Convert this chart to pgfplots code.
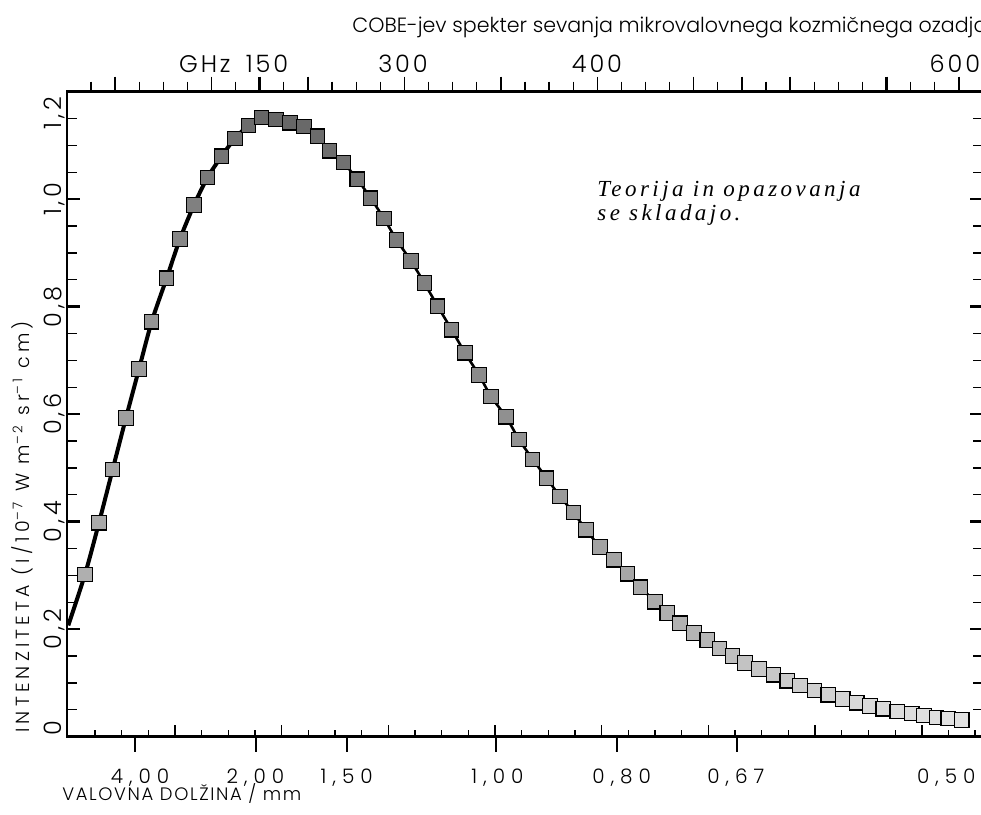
\documentclass[border=0pt]{standalone}
\usepackage{pgfplots}
\pgfplotsset{compat=1.18}
\usepackage{pgfplotstable}
\usepackage{fontspec}
\setmainfont{Poppins}[UprightFont={* Light}]
\newfontfamily\annfont{Liberation Serif}[LetterSpace=15]
\newcommand{\tkA}{\fontsize{12}{14}\selectfont\addfontfeature{LetterSpace=12}}
\newcommand{\tkB}{\fontsize{10}{12}\selectfont\addfontfeature{LetterSpace=30}}
\newcommand{\tkY}{\fontsize{12}{14}\selectfont\addfontfeature{LetterSpace=15}}

% frequency (GHz), intensity, grey level of the square
\pgfplotstableread{
f v g
41.3 0.302 0.68
50.0 0.398 0.66
58.5 0.497 0.64
66.8 0.593 0.62
74.9 0.684 0.60
82.8 0.772 0.58
92.1 0.853 0.55
100.4 0.926 0.52
109.1 0.989 0.50
117.5 1.040 0.47
126.3 1.080 0.45
134.6 1.113 0.43
142.9 1.137 0.42
151.2 1.152 0.40
160.1 1.148 0.40
168.8 1.142 0.40
177.5 1.135 0.41
185.9 1.117 0.42
193.3 1.090 0.43
202.0 1.068 0.44
210.7 1.037 0.45
219.0 1.002 0.46
227.3 0.964 0.47
235.2 0.924 0.48
244.1 0.885 0.49
252.4 0.844 0.50
260.7 0.801 0.51
269.4 0.757 0.52
277.7 0.714 0.53
286.4 0.673 0.54
293.9 0.633 0.55
303.2 0.595 0.56
311.3 0.553 0.57
319.8 0.516 0.58
328.5 0.481 0.59
336.8 0.447 0.60
345.1 0.417 0.61
353.0 0.385 0.62
361.7 0.353 0.63
370.4 0.329 0.64
378.7 0.303 0.65
387.0 0.278 0.66
395.9 0.251 0.67
403.5 0.230 0.68
411.5 0.211 0.69
420.2 0.193 0.70
428.4 0.180 0.71
435.9 0.164 0.72
444.0 0.150 0.74
451.9 0.137 0.76
460.6 0.126 0.77
469.5 0.115 0.78
478.2 0.104 0.79
486.1 0.095 0.80
495.0 0.086 0.81
503.7 0.078 0.82
512.7 0.070 0.83
521.4 0.063 0.84
529.6 0.057 0.85
537.9 0.052 0.85
546.6 0.047 0.86
555.6 0.043 0.86
563.2 0.039 0.87
571.1 0.036 0.87
578.3 0.034 0.88
586.7 0.031 0.88
}\datatab

% theory curve
\pgfplotstableread{
f v
30.9 0.207
41.3 0.302
50.0 0.398
58.5 0.497
66.8 0.593
74.9 0.684
82.8 0.772
92.1 0.853
100.4 0.926
109.1 0.989
117.5 1.040
126.3 1.080
134.6 1.113
142.9 1.137
151.2 1.152
160.1 1.148
168.8 1.142
177.5 1.135
185.9 1.117
193.3 1.090
202.0 1.068
210.7 1.037
219.0 1.002
227.3 0.964
235.2 0.924
244.1 0.885
252.4 0.844
260.7 0.801
269.4 0.757
277.7 0.714
286.4 0.673
293.9 0.633
303.2 0.595
311.3 0.553
319.8 0.516
328.5 0.481
336.8 0.447
345.1 0.417
353.0 0.385
361.7 0.353
370.4 0.329
378.7 0.303
387.0 0.278
395.9 0.251
403.5 0.230
411.5 0.211
420.2 0.193
428.4 0.180
435.9 0.164
444.0 0.150
451.9 0.137
460.6 0.126
469.5 0.115
478.2 0.104
486.1 0.095
495.0 0.086
503.7 0.078
512.7 0.070
521.4 0.063
529.6 0.057
537.9 0.052
546.6 0.047
555.6 0.043
563.2 0.039
571.1 0.036
578.3 0.034
586.7 0.031
}\curvetab

\pgfplotsset{base/.style={scale only axis, width=458.15pt, height=322.5pt,
  xmin=30, xmax=600, ymin=0, ymax=1.2, at={(0,0)}, anchor=south west}}

\begin{document}
\begin{tikzpicture}
% main axis: frame, y ticks, data
\begin{axis}[base, clip=false,
  axis line style={line width=1.3pt},
  xtick=\empty,
  ytick={0,0.2,0.4,0.6,0.8,1.0,1.2}, yticklabels={},
  minor y tick num=3, tick align=inside,
  major tick length=6.5pt, minor tick length=5pt,
  major tick style={line width=1.2pt, black},
  minor tick style={line width=0.6pt, black},
  colormap={bw}{gray(0cm)=(0); gray(1cm)=(1)},
  point meta min=0, point meta max=1]
\addplot[scatter, only marks, mark=square*, mark size=3.6pt,
  mark options={line width=0.6pt},
  scatter/use mapped color={draw=black, fill=mapped color},
  point meta=explicit] table[x=f, y=v, meta=g] {\datatab};
\addplot[no markers, smooth, line width=2pt, black,
  restrict x to domain=30:152] table[x=f, y=v] {\curvetab};
\addplot[no markers, smooth, line width=1.3pt, black,
  restrict x to domain=150:421] table[x=f, y=v] {\curvetab};
\addplot[no markers, smooth, line width=1.6pt, black!45,
  restrict x to domain=420:600] table[x=f, y=v] {\curvetab};

% title and top labels
\node[anchor=base west, inner sep=0, font=\fontsize{10.3}{12}\selectfont]
  at (axis cs:207.4,1.311) {COBE-jev spekter sevanja mikrovalovnega kozmičnega ozadja};
\node[anchor=base east, inner sep=0, font=\tkA] at (axis cs:132.1,1.2366) {GHz};
\node[anchor=base, inner sep=0, font=\tkA] at (axis cs:154.5,1.2366) {150};
\node[anchor=base, inner sep=0, font=\tkA] at (axis cs:239.1,1.2366) {300};
\node[anchor=base, inner sep=0, font=\tkA] at (axis cs:359.8,1.2366) {400};
\node[anchor=base, inner sep=0, font=\tkA] at (axis cs:582.5,1.2366) {600};

% bottom labels
\node[anchor=base, inner sep=0, font=\tkB] at (axis cs:75.5,-0.0878) {4,00};
\node[anchor=base, inner sep=0, font=\tkB] at (axis cs:147.3,-0.0878) {2,00};
\node[anchor=base, inner sep=0, font=\tkB] at (axis cs:204.1,-0.0878) {1,50};
\node[anchor=base, inner sep=0, font=\tkB] at (axis cs:297.9,-0.0878) {1,00};
\node[anchor=base, inner sep=0, font=\tkB] at (axis cs:375.2,-0.0878) {0,80};
\node[anchor=base, inner sep=0, font=\tkB] at (axis cs:446.2,-0.0878) {0,67};
\node[anchor=base west, inner sep=0, font=\tkB] at (axis cs:558.7,-0.0878) {0,50};
\node[anchor=base west, inner sep=0, font=\fontsize{9}{10}\selectfont\addfontfeature{LetterSpace=9}]
  at (axis cs:27.0,-0.1197) {VALOVNA DOLŽINA / mm};

% y tick labels and y label
\node[rotate=90, anchor=base, inner sep=0, font=\tkY] at (axis cs:26.8,0.0162) {0};
\node[rotate=90, anchor=base, inner sep=0, font=\tkY] at (axis cs:26.8,0.2) {0,2};
\node[rotate=90, anchor=base, inner sep=0, font=\tkY] at (axis cs:26.8,0.4) {0,4};
\node[rotate=90, anchor=base, inner sep=0, font=\tkY] at (axis cs:26.8,0.6) {0,6};
\node[rotate=90, anchor=base, inner sep=0, font=\tkY] at (axis cs:26.8,0.8) {0,8};
\node[rotate=90, anchor=base, inner sep=0, font=\tkY] at (axis cs:26.8,1.0) {1,0};
\node[rotate=90, anchor=base, inner sep=0, font=\tkY] at (axis cs:26.8,1.160) {1,2};
\node[rotate=90, anchor=base west, inner sep=0, font=\fontsize{9.5}{11}\selectfont\addfontfeature{LetterSpace=22}]
  at (axis cs:7.09,0.0069) {INTENZITETA (I/10\textsuperscript{–7} W m\textsuperscript{–2} sr\textsuperscript{–1} cm)};

% annotation
\node[anchor=base west, inner sep=0, font=\fontsize{11.5}{13}\selectfont\annfont\itshape]
  at (axis cs:359.8,1.0047) {Teorija in opazovanja};
\node[anchor=base west, inner sep=0, font=\fontsize{11.5}{13}\selectfont\annfont\itshape]
  at (axis cs:359.8,0.961) {se skladajo.};

\coordinate (bbll) at (axis cs:-11.57,-0.1457);
\coordinate (bbur) at (axis cs:598.7,1.3706);
\end{axis}

% bottom outward (wavelength) ticks
\begin{axis}[base, hide y axis, ytick=\empty, axis x line*=bottom,
  axis line style={-, line width=1.3pt},
  xtick={72.4,147.7,204.3,297.0,372.3,446.9}, xticklabels={},
  tick align=outside, major tick length=7.5pt,
  major tick style={line width=1.3pt, black}]
\addplot[draw=none] coordinates {(30,0) (600,1)};
\end{axis}

% bottom inward ticks
\begin{axis}[base, hide y axis, ytick=\empty, axis x line*=bottom,
  axis line style={-, line width=1.3pt},
  xtick={97.3,163.6,230.0,296.4,362.7,429.1,495.5,561.9}, xticklabels={},
  minor xtick={47.5,64.1,80.7,113.9,130.5,147.1,180.2,196.8,213.4,246.6,263.2,279.8,313.0,329.5,346.1,379.3,395.9,412.5,445.7,462.3,478.9,512.1,528.7,545.3,578.4,595.0},
  tick align=inside, major tick length=6pt, minor tick length=3.5pt,
  major tick style={line width=0.8pt, black},
  minor tick style={line width=0.6pt, black}]
\addplot[draw=none] coordinates {(30,0) (600,1)};
\end{axis}

% top outward ticks
\begin{axis}[base, hide y axis, ytick=\empty, axis x line*=top,
  axis line style={-, line width=1.1pt},
  xtick={120,180,240,360,420,480,585}, xticklabels={},
  minor xtick={45,75,90,105,135,165,195,210,225,255,270,285,315,330,345,375,390,405,435,465,495,510,525,555,570},
  extra x ticks={60,150,300,450,540}, extra x tick labels={},
  extra x tick style={major tick style={line width=1.3pt, black}},
  tick align=outside, major tick length=7.5pt, minor tick length=5pt,
  major tick style={line width=0.7pt, black},
  minor tick style={line width=0.6pt, black}]
\addplot[draw=none] coordinates {(30,0) (600,1)};
\end{axis}

\pgfresetboundingbox
\path[use as bounding box] (bbll) rectangle (bbur);
\end{tikzpicture}
\end{document}
